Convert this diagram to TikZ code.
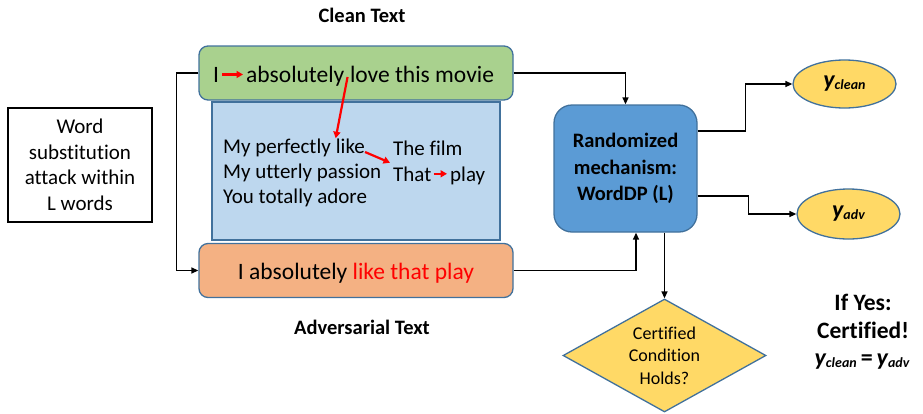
\documentclass[tikz,border=0pt]{standalone}
\usepackage{fontspec}
\setmainfont{Carlito}[Ligatures=NoCommon]
\usetikzlibrary{arrows.meta,positioning,shapes.geometric}
\definecolor{cleangreen}{HTML}{A9D18E}
\definecolor{advorange}{HTML}{F4B183}
\definecolor{candblue}{HTML}{BDD7EE}
\definecolor{mechblue}{HTML}{5B9BD5}
\definecolor{outyellow}{HTML}{FFD966}
\definecolor{edge}{HTML}{41719C}
\newcommand{\yout}[1]{{\fontsize{24}{24}\selectfont\bfseries\itshape y}\raisebox{-2pt}{\fontsize{14}{14}\selectfont\bfseries\itshape #1}}

\begin{document}
\begin{tikzpicture}[x=1pt,y=-1pt,
  sentbox/.style={draw=edge,line width=1.3pt,rounded corners=9pt,minimum width=314pt,minimum height=54pt},
  bigword/.style={inner sep=0pt,anchor=base west,font=\fontsize{23.5}{28}\selectfont},
  cand/.style={inner sep=0pt,anchor=base west,font=\fontsize{21}{25}\selectfont},
  caption/.style={font=\fontsize{20.5}{24}\selectfont\bfseries},
  flow/.style={line width=1.4pt,-{Triangle[length=7pt,width=6pt]}},
  swap/.style={red,line width=2.2pt,-{Triangle[length=6.5pt,width=7pt]}}]
  \useasboundingbox (0,0) rectangle (923,413);

  % Attack description
  \node[draw,line width=1.3pt,minimum width=144pt,minimum height=114pt,align=center,
        font=\fontsize{21}{25.5}\selectfont] (attack) at (80,165) {Word\\substitution\\attack within\\L words};

  % Sentences and candidate words
  \node[sentbox,fill=cleangreen] (clean) at (356,73) {};
  \node[draw=edge,line width=1.3pt,fill=candblue,minimum width=288pt,minimum height=138pt] (cands) at (356,171) {};
  \node[sentbox,fill=advorange] (adv) at (356,270.5) {};
  \node[caption] (cleanlbl) at (362,15) {Clean Text};
  \node[caption] (advlbl) at (362,327) {Adversarial Text};

  \node[bigword] (wI) at (213,82) {I};
  \node[bigword] (wabs) at (246,82) {absolutely};
  \node[bigword] (wlove) at ([xshift=5.3pt]wabs.base east) {love this movie};

  \node[cand] (c1) at (223,153) {My perfectly};
  \node[cand] (like) at ([xshift=4.7pt]c1.base east) {like};
  \node[cand] (c2) at (223,178) {My utterly passion};
  \node[cand] (c3) at (223,203) {You totally adore};
  \node[cand] (film) at (393,155) {The film};
  \node[cand] (that) at (393,181) {That};
  \node[cand] (play) at (450,181) {play};

  \node[bigword,anchor=base] (advtxt) at (356,279) {I absolutely \textcolor{red}{like that play}};

  % Substitutions
  \draw[swap] ([xshift=3pt]wI.east) -- ([xshift=-3pt]wI.east -| wabs.west);
  \draw[swap] ([xshift=3pt,yshift=5pt]wabs.base east) -- (like.north west);
  \draw[swap] ([yshift=1pt]like.base east) -- ([xshift=-3pt,yshift=3.5pt]that.north west);
  \draw[swap] ([xshift=2pt]that.east) -- ([xshift=-3pt]that.east -| play.west);

  % Mechanism and outputs
  \node[draw=edge,line width=1.3pt,fill=mechblue,rounded corners=18pt,minimum width=143pt,minimum height=127pt,
        align=center,font=\fontsize{20.5}{26.5}\selectfont\bfseries] (mech) at (625.5,168.5) {Randomized\\mechanism:\\WordDP (L)};
  \node[ellipse,draw=edge,line width=1.3pt,fill=outyellow,minimum width=103pt,minimum height=48pt,inner sep=0pt] (yclean) at (844.5,84) {\yout{clean}};
  \node[ellipse,draw=edge,line width=1.3pt,fill=outyellow,minimum width=103pt,minimum height=50pt,inner sep=0pt] (yadv) at (848.5,214) {\yout{adv}};
  \node[diamond,draw=edge,line width=1.3pt,fill=outyellow,aspect=1.8,minimum width=203pt,minimum height=113pt,inner sep=0pt,
        align=center,font=\fontsize{18}{22.5}\selectfont] (cond) at (664.5,355.5) {Certified\\Condition\\Holds?};

  \node[align=center,font=\fontsize{23.5}{28}\selectfont\bfseries] (verdict) at (863,316) {If Yes:\\Certified!};
  \node (equal) at (862,362) {\yout{clean}\hspace{4pt}{\fontsize{24}{24}\selectfont\bfseries =}\hspace{4pt}\yout{adv}};

  % Connectors
  \draw[flow] (clean.west) -- ++(-22,0) |- (adv.west);
  \draw[flow] (clean.east) -| (mech.north);
  \draw[flow] (adv.east) -| ([xshift=10.5pt]mech.south);
  \draw[flow] (cond.north |- mech.south) -- (cond.north);
  \draw[flow] ([yshift=37.5pt]mech.east) -- ++(48,0) |- (yclean.west);
  \draw[flow] ([yshift=-27.5pt]mech.east) -- ++(51,0) |- (yadv.west);
\end{tikzpicture}
\end{document}
